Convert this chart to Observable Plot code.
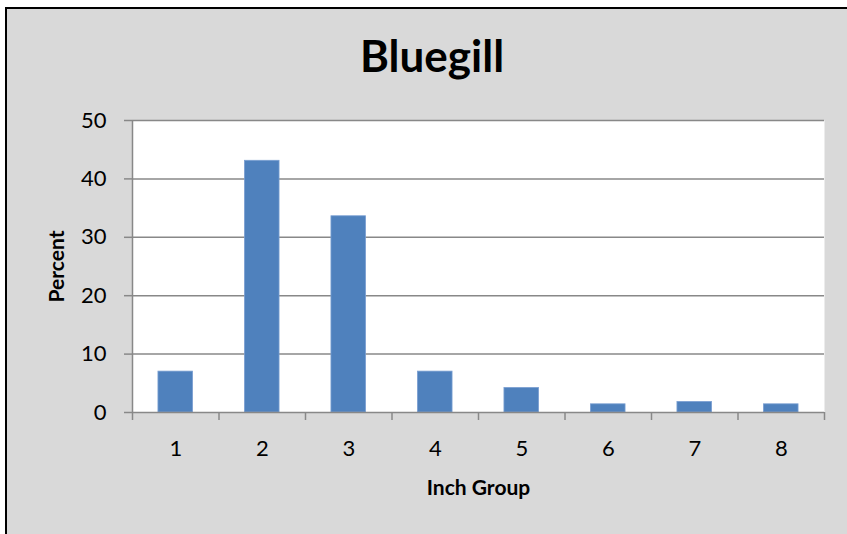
<!DOCTYPE html>
<html>
<head>
<meta charset="utf-8">
<script src="https://cdn.jsdelivr.net/npm/d3@7"></script>
<script src="https://cdn.jsdelivr.net/npm/@observablehq/plot@0.6"></script>
<style>
  html, body { margin: 0; padding: 0; background: #ffffff; overflow: hidden; width: 847px; height: 534px; position: relative; }
  #chart {
    position: absolute; left: 5px; top: 7px; width: 870px; height: 560px;
    background: #d9d9d9; border-left: 2px solid #000; border-top: 2px solid #000;
    box-sizing: border-box;
  }
  #title {
    width: 840px;
    height: 91px; line-height: 93px; text-align: center; padding-left: 10px; box-sizing: border-box;
    font-family: Lato, sans-serif; font-weight: bold; font-size: 44px; color: #000;
    overflow: visible; white-space: nowrap;
  }
  #chart svg { display: block; }
</style>
</head>
<body>
<div id="chart"><div id="title">Bluegill</div></div>
<script>
const inchGroups = [1, 2, 3, 4, 5, 6, 7, 8];
const percentValues = [7.0, 43.1, 33.6, 7.0, 4.2, 1.4, 1.8, 1.4];
const yTicks = [0, 10, 20, 30, 40, 50];
const xLabels = ["1", "2", "3", "4", "5", "6", "7", "8"];

const data = inchGroups.map((g, i) => ({inch: g, pct: percentValues[i]}));
const boundaries = [0, ...inchGroups].map(g => g + 0.5);
const gray = "#888888";

const chart = Plot.plot({
  width: 840,
  height: 434,
  marginLeft: 125,
  marginRight: 23,
  marginTop: 20,
  marginBottom: 122,
  style: {background: "transparent", fontFamily: "Lato, sans-serif", fontSize: "22px", color: "#000", overflow: "visible"},
  x: {domain: [0.5, 8.5]},
  y: {domain: [0, 50]},
  marks: [
    Plot.frame({fill: "#ffffff", stroke: null}),
    Plot.gridY(yTicks.filter(v => v > 0), {stroke: gray, strokeOpacity: 1, strokeWidth: 1.5}),
    Plot.rectY(data, {x1: d => d.inch - 0.2, x2: d => d.inch + 0.2, y1: 0, y2: "pct", fill: "#4f81bd", stroke: "#7a9fd2", strokeWidth: 0.8}),
    Plot.ruleX([0.5], {stroke: gray, strokeWidth: 1.5}),
    Plot.ruleY([0], {stroke: gray, strokeWidth: 1.5}),
    Plot.axisY(yTicks, {tickSize: 8, tickPadding: 18, stroke: gray, strokeWidth: 1.5, fill: "#000", label: null}),
    Plot.axisY([], {tickSize: 0, label: "Percent", labelAnchor: "center", labelArrow: "none", labelOffset: 83, fontWeight: "bold", fontSize: 21, fill: "#000"}),
    Plot.axisX(boundaries, {tickSize: 8, tickFormat: () => "", stroke: gray, strokeWidth: 1.5, label: null}),
    Plot.axisX(inchGroups, {tickSize: 0, tickPadding: 28, tickFormat: (d, i) => xLabels[i], fill: "#000", label: null}),
    Plot.axisX([], {tickSize: 0, label: "Inch Group", labelAnchor: "center", labelArrow: "none", labelOffset: 82, fontWeight: "bold", fontSize: 21, fill: "#000"})
  ]
});
document.getElementById("chart").appendChild(chart);
</script>
</body>
</html>
